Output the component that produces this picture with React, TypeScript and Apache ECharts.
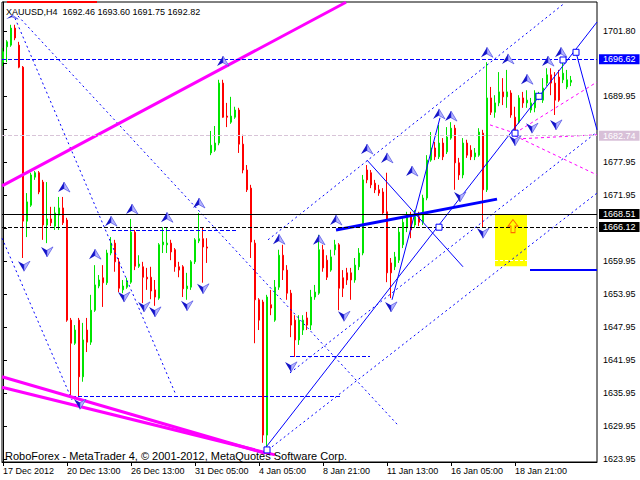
import React, { useEffect, useRef } from "react";
import * as echarts from "echarts";

const FONT = "'Liberation Sans', Arial, sans-serif";

const xTickIndex = [0, 16, 32, 48, 64, 80, 96, 112, 128];
const xTickLabels = ["17 Dec 2012", "20 Dec 13:00", "26 Dec 13:00", "31 Dec 05:00", "4 Jan 05:00", "8 Jan 21:00", "11 Jan 13:00", "16 Jan 05:00", "18 Jan 21:00"];
const priceTicks = [1623.95, 1629.95, 1635.95, 1641.95, 1647.95, 1653.95, 1659.95, 1665.95, 1671.95, 1677.95, 1683.95, 1689.95, 1695.95, 1701.8];
// grid labels that stay visible (the others sit under the highlighted price boxes)
const priceLabels = [1623.95, 1629.95, 1635.95, 1641.95, 1647.95, 1653.95, 1659.95, 1671.95, 1677.95, 1689.95, 1701.8];

// [open, close, low, high] per H4 bar
const ohlc = [
  [1696.1, 1698.0, 1695.4, 1698.7], [1698.9, 1699.8, 1696.1, 1700.1], [1699.2, 1702.3, 1698.9, 1702.9], [1702.3, 1700.5, 1700.1, 1702.9],
  [1699.2, 1695.2, 1695.0, 1699.8], [1695.2, 1667.2, 1660.5, 1695.4], [1667.2, 1670.7, 1664.3, 1672.3], [1670.1, 1675.6, 1669.8, 1676.0],
  [1675.2, 1676.0, 1674.7, 1676.3], [1676.0, 1672.5, 1672.1, 1676.3], [1674.3, 1666.5, 1663.8, 1674.7], [1666.5, 1667.6, 1663.2, 1674.3],
  [1667.6, 1666.9, 1666.3, 1669.8], [1666.3, 1668.7, 1665.6, 1669.8], [1668.3, 1669.6, 1665.6, 1671.6], [1669.6, 1666.9, 1666.5, 1671.6],
  [1667.4, 1649.2, 1648.9, 1667.8], [1649.2, 1645.0, 1635.6, 1649.6], [1645.0, 1647.4, 1644.7, 1648.3], [1649.2, 1638.9, 1635.2, 1649.6],
  [1638.9, 1645.6, 1638.0, 1648.7], [1647.4, 1645.2, 1643.4, 1649.6], [1645.2, 1651.0, 1644.7, 1653.8], [1651.0, 1655.6, 1650.7, 1659.2],
  [1655.4, 1656.5, 1655.0, 1657.4], [1656.9, 1656.0, 1651.6, 1659.2], [1656.0, 1661.4, 1655.6, 1662.0], [1661.4, 1663.2, 1661.0, 1664.3],
  [1663.2, 1659.8, 1658.0, 1663.8], [1659.8, 1655.0, 1654.3, 1660.5], [1654.7, 1655.4, 1654.1, 1656.5], [1655.2, 1656.1, 1654.9, 1656.9],
  [1656.1, 1665.2, 1655.8, 1667.6], [1665.2, 1659.0, 1658.3, 1665.6], [1659.0, 1659.4, 1658.7, 1661.0], [1658.9, 1657.0, 1652.3, 1659.8],
  [1657.0, 1656.7, 1654.7, 1658.7], [1657.0, 1654.5, 1653.0, 1658.9], [1654.7, 1653.4, 1651.8, 1656.5], [1653.2, 1662.9, 1652.9, 1663.2],
  [1662.9, 1663.4, 1661.4, 1666.1], [1662.9, 1663.2, 1661.4, 1666.1], [1663.2, 1661.6, 1660.1, 1663.8], [1662.0, 1658.9, 1658.0, 1662.3],
  [1658.9, 1658.3, 1657.0, 1659.8], [1658.9, 1654.9, 1653.4, 1659.2], [1654.9, 1655.4, 1652.9, 1657.8], [1655.2, 1659.8, 1654.7, 1660.1],
  [1659.8, 1663.8, 1659.4, 1664.1], [1663.6, 1664.0, 1663.2, 1668.7], [1664.0, 1662.5, 1656.0, 1666.0], [1662.5, 1662.3, 1659.6, 1664.1],
  [1679.6, 1681.0, 1679.2, 1683.6], [1680.1, 1681.4, 1679.8, 1684.5], [1681.4, 1692.3, 1681.0, 1692.9], [1692.3, 1686.1, 1686.0, 1692.9],
  [1686.3, 1686.1, 1684.3, 1688.7], [1685.2, 1686.3, 1684.9, 1689.8], [1686.1, 1687.4, 1685.8, 1688.0], [1687.4, 1681.2, 1679.6, 1687.8],
  [1681.2, 1676.5, 1675.9, 1682.9], [1676.5, 1672.9, 1672.5, 1677.4], [1673.2, 1663.4, 1660.5, 1673.8], [1663.2, 1652.9, 1645.0, 1663.8],
  [1652.9, 1649.2, 1647.4, 1653.2], [1652.5, 1628.3, 1626.9, 1652.9], [1628.3, 1653.4, 1626.1, 1653.8], [1652.0, 1651.4, 1650.1, 1654.7],
  [1649.2, 1655.2, 1648.9, 1656.5], [1655.2, 1661.0, 1654.7, 1662.0], [1661.0, 1658.3, 1656.5, 1662.9], [1658.3, 1654.1, 1652.9, 1659.2],
  [1654.1, 1648.3, 1646.1, 1654.7], [1649.2, 1645.6, 1642.5, 1650.1], [1645.6, 1649.2, 1644.7, 1650.1], [1647.4, 1649.2, 1646.5, 1650.1],
  [1649.6, 1648.3, 1647.4, 1650.7], [1648.3, 1653.4, 1647.4, 1654.7], [1653.4, 1654.3, 1652.9, 1655.6], [1654.1, 1662.0, 1653.8, 1664.7],
  [1662.0, 1658.7, 1658.0, 1662.9], [1660.1, 1657.0, 1656.5, 1661.0], [1658.3, 1660.7, 1658.0, 1662.0], [1662.0, 1662.9, 1661.0, 1663.8],
  [1662.9, 1655.0, 1651.0, 1663.2], [1656.9, 1655.0, 1653.4, 1658.3], [1657.8, 1656.5, 1655.6, 1658.7], [1657.8, 1656.5, 1652.9, 1658.7],
  [1656.5, 1659.2, 1656.0, 1660.5], [1658.9, 1661.4, 1658.3, 1662.3], [1661.4, 1674.7, 1661.0, 1675.6], [1676.5, 1674.7, 1674.1, 1677.4],
  [1676.0, 1673.8, 1673.2, 1676.5], [1674.1, 1672.9, 1672.3, 1674.7], [1672.9, 1672.3, 1671.8, 1673.8], [1672.5, 1668.7, 1668.3, 1673.2],
  [1668.9, 1657.8, 1656.1, 1676.0], [1659.6, 1657.8, 1653.2, 1660.5], [1658.9, 1660.7, 1658.3, 1661.6], [1660.1, 1665.2, 1659.6, 1666.0],
  [1662.9, 1667.0, 1662.3, 1667.8], [1666.0, 1668.0, 1665.2, 1668.9], [1668.0, 1665.6, 1664.1, 1668.9], [1666.5, 1668.0, 1666.0, 1669.2],
  [1668.0, 1667.0, 1666.3, 1668.9], [1667.0, 1671.4, 1666.5, 1672.0], [1671.4, 1678.3, 1671.0, 1679.2], [1678.3, 1680.5, 1678.0, 1683.4],
  [1680.5, 1678.9, 1678.3, 1681.6], [1678.9, 1681.4, 1678.5, 1684.7], [1681.4, 1678.9, 1678.3, 1682.3], [1679.8, 1682.5, 1679.4, 1684.3],
  [1682.3, 1684.1, 1682.0, 1685.2], [1684.1, 1677.8, 1672.9, 1684.7], [1677.8, 1675.6, 1674.7, 1678.7], [1675.6, 1681.4, 1675.0, 1682.3],
  [1681.4, 1679.2, 1678.7, 1682.0], [1680.1, 1678.9, 1678.3, 1681.0], [1678.9, 1679.6, 1678.3, 1680.5], [1679.2, 1683.4, 1678.9, 1684.1],
  [1683.2, 1672.9, 1666.1, 1683.8], [1672.9, 1689.6, 1672.5, 1696.1], [1689.6, 1687.0, 1686.5, 1691.6], [1687.0, 1688.7, 1686.0, 1690.1],
  [1688.7, 1690.7, 1688.1, 1694.3], [1690.7, 1689.8, 1688.3, 1693.2], [1689.8, 1690.7, 1687.8, 1694.7], [1690.5, 1686.5, 1686.0, 1691.0],
  [1686.1, 1683.4, 1683.2, 1688.0], [1685.2, 1689.6, 1684.9, 1690.1], [1689.6, 1688.7, 1687.8, 1690.7], [1688.7, 1689.2, 1687.8, 1691.0],
  [1687.4, 1688.7, 1686.9, 1689.6], [1687.8, 1690.5, 1687.0, 1691.0], [1689.8, 1690.1, 1689.2, 1690.7], [1689.2, 1691.4, 1688.7, 1693.2],
  [1692.3, 1693.8, 1691.8, 1695.0], [1693.8, 1692.3, 1690.1, 1695.0], [1692.3, 1689.2, 1686.5, 1694.3], [1693.4, 1689.2, 1688.9, 1694.7],
  [1692.9, 1694.1, 1692.3, 1696.0], [1691.6, 1692.9, 1691.2, 1694.7], [1692.46, 1692.82, 1691.75, 1693.6],
];

// horizontal price levels
const levelPrices = [1696.62, 1692.82, 1682.74, 1668.51, 1666.12];

// fractal arrows [bar index, price]
const upArrows = [
  [15.25, 1673.4], [23, 1661.2], [27, 1667.2], [32.25, 1669.4], [41, 1667.9], [49, 1670.5], [55, 1696.3],
  [69, 1663.9], [79, 1663.8], [83.25, 1667.4], [91, 1680.3], [96, 1678.7], [102.25, 1676.3], [109, 1686.7],
  [112, 1686.3], [121, 1697.9], [126.25, 1696.7], [131, 1693.0], [136.25, 1696.3], [139.5, 1697.9],
];
const flatArrows = [[2.3, 1704.3]];
const downArrows = [
  [5.25, 1659.0], [11, 1661.6], [19.25, 1633.9], [30.25, 1653.4], [35.25, 1651.6], [38, 1650.7], [46, 1651.8],
  [50, 1654.9], [72, 1640.7], [85.25, 1649.9], [97, 1651.6], [114.25, 1671.6], [120, 1665.0], [128, 1681.8],
  [132.25, 1684.1], [138.25, 1684.7],
];
const waveBoxes = [[66, 1625.6], [109, 1666.1], [128, 1683.2], [134, 1689.9], [140, 1696.5], [143.25, 1697.9]];
const signalArrow = [[127.5, 1666.3]];
const targetZone = [[123, 1668.5], [131, 1659.0]];

// trend lines: [[index, price], [index, price]]
const magentaLines = [
  [[-0.25, 1673.6], [85.75, 1707.0]],
  [[-0.25, 1638.9], [65.5, 1625.0]],
  [[-0.25, 1637.0], [68, 1624.7]],
];
const blueSolidLines = [
  [[65.75, 1626.1], [148.5, 1703.4]],
  [[97.25, 1652.9], [109.25, 1686.0]],
  [[143.25, 1697.9], [148.5, 1683.8]],
  [[91, 1678.3], [115, 1658.9]],
];
const blueThickLines = [[[83.25, 1665.6], [123.5, 1671.2]]];
const blueTargetLines = [[[131.75, 1658.3], [148.5, 1658.3]]];
const blueDotLines = [
  [[3, 1704.1], [43, 1636.0]],
  [[-0.25, 1664.1], [17.25, 1634.7]],
  [[3.75, 1704.5], [98.75, 1630.1]],
  [[66.25, 1625.6], [148.5, 1672.3]],
  [[66.25, 1663.8], [140.5, 1706.9]],
  [[71.75, 1639.6], [148.5, 1683.4]],
];
const blueDashLines = [
  [[17.25, 1635.4], [84.25, 1635.4]],
  [[71.75, 1642.7], [91.75, 1642.7]],
  [[27.25, 1665.6], [58.5, 1665.6]],
];
const pinkDashLines = [
  [[121.75, 1684.7], [128, 1683.2]],
  [[128, 1683.2], [148.5, 1692.5]],
  [[130, 1682.2], [148.5, 1682.9]],
  [[128, 1682.7], [148.5, 1675.6]],
];
const whiteDashLines = [[[123, 1660.1], [131, 1660.1]]];

const TITLE = "XAUUSD,H4  1692.46 1693.60 1691.75 1692.82";
const FOOTER = "RoboForex - MetaTrader 4, \u00A9 2001-2012, MetaQuotes Software Corp.";

export default function App() {
  const ref = useRef<HTMLDivElement>(null);
  useEffect(() => {
    const chart = echarts.init(ref.current!, null, { renderer: "svg" });
    const candleData = ohlc.map((d, i) => [i, d[0], d[1], d[2], d[3]]);

    const levelStyles = [
      { line: { color: "#0000ff", type: [4, 2], width: 1, opacity: 1 }, bg: "#0000ff" },
      { line: { color: "#000", width: 0, opacity: 0 }, bg: "#000000" },
      { line: { color: "#d8c4d8", type: [4, 2], width: 1, opacity: 1 }, bg: "#d8c0d8" },
      { line: { color: "#000", type: "solid", width: 1, opacity: 1 }, bg: "#000000" },
      { line: { color: "#000", type: [4, 2], width: 1, opacity: 1 }, bg: "#000000" },
    ];

    const linesSeries = (data: number[][][], style: any, z = 3) => ({
      type: "lines",
      coordinateSystem: "cartesian2d",
      polyline: false,
      silent: true,
      z,
      symbol: ["none", "none"],
      data: data.map((c) => ({ coords: c })),
      lineStyle: { opacity: 1, ...style },
    });

    const halfSymbol = (data: number[][], path: string, size: number[], offset: number[], color: string, border?: string) => ({
      type: "scatter",
      silent: true,
      z: 5,
      data,
      symbol: "path://" + path,
      symbolSize: size,
      symbolOffset: offset,
      symbolKeepAspect: false,
      itemStyle: { color, opacity: 1, borderColor: border || color, borderWidth: border ? 0.6 : 0 },
    });

    const option: any = {
      animation: false,
      backgroundColor: "#ffffff",
      textStyle: { fontFamily: FONT },
      grid: { left: 2, top: 2, width: 595, height: 460, show: true, borderColor: "#000", borderWidth: 1, backgroundColor: "transparent" },
      xAxis: {
        type: "value",
        min: -0.25,
        max: 148.5,
        axisLine: { show: true, lineStyle: { color: "#000", width: 1 } },
        axisTick: { show: true, customValues: xTickIndex, length: 4, lineStyle: { color: "#000" } },
        axisLabel: {
          customValues: xTickIndex,
          formatter: (v: number) => {
            const k = xTickIndex.indexOf(Math.round(v));
            return k >= 0 ? xTickLabels[k] : "";
          },
          align: "left",
          margin: 4,
          fontSize: 9,
          color: "#000",
          fontFamily: FONT,
        },
        splitLine: { show: false },
      },
      yAxis: {
        type: "value",
        position: "right",
        min: 1623.405,
        max: 1707.045,
        axisLine: { show: true, lineStyle: { color: "#000", width: 1 } },
        axisTick: { show: true, customValues: priceTicks, length: 4, lineStyle: { color: "#000" } },
        axisLabel: {
          customValues: priceLabels,
          formatter: (v: number) => v.toFixed(2),
          margin: 6,
          fontSize: 9,
          color: "#000",
          fontFamily: FONT,
        },
        splitLine: { show: false },
      },
      series: [
        {
          type: "line",
          data: [],
          z: 1,
          silent: true,
          markArea: {
            silent: true,
            itemStyle: { color: "#ffff00", opacity: 1 },
            data: [[{ coord: targetZone[0] }, { coord: targetZone[1] }]],
          },
        },
        {
          type: "candlestick",
          data: candleData,
          barWidth: 2,
          z: 2,
          silent: true,
          itemStyle: { color: "#00e400", color0: "#ff0000", borderColor: "#00e400", borderColor0: "#ff0000", borderWidth: 1 },
        },
        linesSeries(whiteDashLines, { color: "#ffffff", width: 1, type: [3, 2] }),
        linesSeries(blueDotLines, { color: "#0000ff", width: 1, type: [2, 3] }),
        linesSeries(blueDashLines, { color: "#0000ff", width: 1, type: [4, 2] }),
        linesSeries(pinkDashLines, { color: "#ff00ff", width: 1, type: [3, 3] }),
        linesSeries(blueSolidLines, { color: "#0000ff", width: 1, type: "solid" }),
        linesSeries(blueThickLines, { color: "#0000ff", width: 3, type: "solid" }),
        linesSeries(blueTargetLines, { color: "#0000ff", width: 2, type: "solid" }),
        linesSeries(magentaLines, { color: "#ff00ff", width: 3, type: "solid" }),
        {
          type: "line",
          data: [],
          z: 4,
          clip: false,
          silent: true,
          markLine: {
            silent: true,
            symbol: ["none", "none"],
            precision: 2,
            data: levelPrices.map((p, k) => ({
              yAxis: p,
              lineStyle: levelStyles[k].line,
              label: {
                show: true,
                position: "end",
                distance: 2,
                formatter: p.toFixed(2),
                color: "#ffffff",
                backgroundColor: levelStyles[k].bg,
                padding: [1, 4, 0, 4],
                fontSize: 9,
                fontFamily: FONT,
              },
            })),
          },
        },
        halfSymbol(upArrows, "M6 0 L6 6 L0 9 Z", [6, 10], [-3, 0], "#1414c8"),
        halfSymbol(upArrows, "M6 0 L12 9 L6 6 Z", [6, 10], [3, 0], "#b4b4ff", "#4040e0"),
        halfSymbol(flatArrows, "M6 0 L6 2 L0 4 Z", [6, 4], [-3, 0], "#1414c8"),
        halfSymbol(flatArrows, "M6 0 L12 4 L6 2 Z", [6, 4], [3, 0], "#b4b4ff", "#4040e0"),
        halfSymbol(downArrows, "M0 0 L6 3 L6 9 Z", [6, 10], [-3, 0], "#1414c8"),
        halfSymbol(downArrows, "M6 3 L12 0 L6 9 Z", [6, 10], [3, 0], "#b4b4ff", "#4040e0"),
        {
          type: "scatter",
          silent: true,
          z: 6,
          data: waveBoxes,
          symbol: "rect",
          symbolSize: 6,
          itemStyle: { color: "#ffffff", opacity: 1, borderColor: "#0000ff", borderWidth: 1 },
        },
        {
          type: "scatter",
          silent: true,
          z: 6,
          data: signalArrow,
          symbol: "path://M5 0 L10 6 L7 6 L7 12 L3 12 L3 6 L0 6 Z",
          symbolSize: [10, 13],
          itemStyle: { color: "#ffff00", opacity: 1, borderColor: "#ff6a00", borderWidth: 1 },
        },
      ],
      graphic: [
        { type: "rect", z: 20, shape: { x: 7, y: 1, width: 90, height: 2 }, style: { fill: "#ff0000" } },
        {
          type: "text",
          z: 20,
          x: 6,
          y: 11.5,
          style: { text: TITLE, fill: "#000", fontSize: 9, fontFamily: FONT, verticalAlign: "middle", textVerticalAlign: "middle" },
        },
        {
          type: "text",
          z: 20,
          x: 5,
          y: 455.5,
          style: { text: FOOTER, fill: "#000", fontSize: 11, fontFamily: FONT, verticalAlign: "middle", textVerticalAlign: "middle" },
        },
      ],
    };
    chart.setOption(option);
    return () => chart.dispose();
  }, []);
  return <div ref={ref} style={{ position: "absolute", left: 0, top: 0, width: 640, height: 480 }} />;
}
